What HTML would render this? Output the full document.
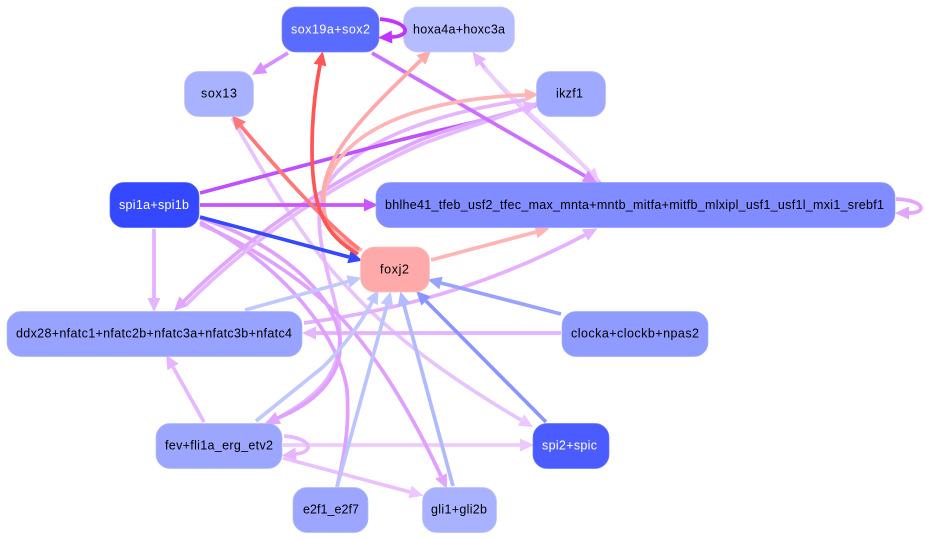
<!DOCTYPE html>
<html><head><meta charset="utf-8"><style>
html,body{margin:0;padding:0;background:#fff;width:925px;height:539px;overflow:hidden}
svg{display:block}
text{font-family:"Liberation Sans",sans-serif;font-size:12.5px;text-anchor:start}
path{fill:none;stroke-width:3.7}
</style></head><body>
<svg width="925" height="539" viewBox="0 0 925 539" xmlns="http://www.w3.org/2000/svg">
<defs>
<marker id="a1" markerUnits="userSpaceOnUse" markerWidth="16" markerHeight="16" refX="0" refY="8" orient="auto" overflow="visible"><polygon points="0,1.5 14,8 0,14.500" fill="#c233ff"/></marker>
<marker id="a2" markerUnits="userSpaceOnUse" markerWidth="16" markerHeight="16" refX="0" refY="8" orient="auto" overflow="visible"><polygon points="0,1.5 14,8 0,14.500" fill="#d88fff"/></marker>
<marker id="a3" markerUnits="userSpaceOnUse" markerWidth="16" markerHeight="16" refX="0" refY="8" orient="auto" overflow="visible"><polygon points="0,1.5 14,8 0,14.500" fill="#ff5555"/></marker>
<marker id="a4" markerUnits="userSpaceOnUse" markerWidth="16" markerHeight="16" refX="0" refY="8" orient="auto" overflow="visible"><polygon points="0,1.5 14,8 0,14.500" fill="#ff7777"/></marker>
<marker id="a5" markerUnits="userSpaceOnUse" markerWidth="16" markerHeight="16" refX="0" refY="8" orient="auto" overflow="visible"><polygon points="0,1.5 14,8 0,14.500" fill="#ffaaaa"/></marker>
<marker id="a6" markerUnits="userSpaceOnUse" markerWidth="16" markerHeight="16" refX="0" refY="8" orient="auto" overflow="visible"><polygon points="0,1.5 14,8 0,14.500" fill="#ffb5b5"/></marker>
<marker id="a7" markerUnits="userSpaceOnUse" markerWidth="16" markerHeight="16" refX="0" refY="8" orient="auto" overflow="visible"><polygon points="0,1.5 14,8 0,14.500" fill="#e2a6ff"/></marker>
<marker id="a8" markerUnits="userSpaceOnUse" markerWidth="16" markerHeight="16" refX="0" refY="8" orient="auto" overflow="visible"><polygon points="0,1.5 14,8 0,14.500" fill="#e6b5ff"/></marker>
<marker id="a9" markerUnits="userSpaceOnUse" markerWidth="16" markerHeight="16" refX="0" refY="8" orient="auto" overflow="visible"><polygon points="0,1.5 14,8 0,14.500" fill="#ecc8ff"/></marker>
<marker id="b1" markerUnits="userSpaceOnUse" markerWidth="16" markerHeight="16" refX="0" refY="8" orient="auto" overflow="visible"><polygon points="0,1.5 14,8 0,14.500" fill="#3348ff"/></marker>
<marker id="b2" markerUnits="userSpaceOnUse" markerWidth="16" markerHeight="16" refX="0" refY="8" orient="auto" overflow="visible"><polygon points="0,1.5 14,8 0,14.500" fill="#8a96ff"/></marker>
<marker id="b3" markerUnits="userSpaceOnUse" markerWidth="16" markerHeight="16" refX="0" refY="8" orient="auto" overflow="visible"><polygon points="0,1.5 14,8 0,14.500" fill="#98a3ff"/></marker>
<marker id="b4" markerUnits="userSpaceOnUse" markerWidth="16" markerHeight="16" refX="0" refY="8" orient="auto" overflow="visible"><polygon points="0,1.5 14,8 0,14.500" fill="#b0baff"/></marker>
<marker id="b5" markerUnits="userSpaceOnUse" markerWidth="16" markerHeight="16" refX="0" refY="8" orient="auto" overflow="visible"><polygon points="0,1.5 14,8 0,14.500" fill="#bfc7ff"/></marker>
<marker id="a10" markerUnits="userSpaceOnUse" markerWidth="16" markerHeight="16" refX="0" refY="8" orient="auto" overflow="visible"><polygon points="0,1.5 14,8 0,14.500" fill="#c855ff"/></marker>
</defs>

<!-- light background edges -->
<path d="M232 118 C270 185 310 250 350 290 C400 345 470 390 521 420" stroke="#e8c4ff" marker-end="url(#a9)"/>
<path d="M283 445 L520 445" stroke="#eecaff" marker-end="url(#a9)"/>
<path d="M283 458 L410 492" stroke="#eac0ff" marker-end="url(#a9)"/>
<path d="M204 422 L173 367" stroke="#e8b8ff" marker-end="url(#a8)"/>
<path d="M154 229 L154 298" stroke="#e5b0ff" marker-end="url(#a8)"/>
<path d="M561 333 L316 333" stroke="#e5b0ff" marker-end="url(#a8)"/>
<path d="M304 323 C400 310 490 285 585 235" stroke="#e5b0ff" marker-end="url(#a8)"/>
<path d="M601 184 C563 142 513 105 481 63" stroke="#e5b0ff" marker-end="url(#a8)"/>
<path d="M484 68 C515 102 555 135 590 172" stroke="#ead0ff" marker-end="url(#a9)"/>

<!-- purple arcs -->
<path d="M525 100 C420 115 340 150 322 195 C310 240 340 300 340 335 C340 380 310 400 278 418" stroke="#e6b5ff" marker-end="url(#a8)"/>
<path d="M200 218 C270 240 335 290 340 340 C343 380 310 405 278 418" stroke="#e0a0ff" marker-end="url(#a7)"/>
<path d="M200 222 C290 270 340 340 347 390 C350 430 343 460 337 487" stroke="#e0a0ff"/>
<path d="M200 224 C260 250 310 285 343 320 C380 360 415 420 441 476" stroke="#e0a0ff" marker-end="url(#a7)"/>
<path d="M200 193 L400 140 C450 127 500 118 537 104" stroke="#c04fff"/>
<path d="M536 106 C500 115 460 125 420 140 C330 180 250 235 184 301" stroke="#dfa6ff" marker-end="url(#a7)"/>
<path d="M186 305 C253 238 332 184 422 144 C462 129 495 119 525 108" stroke="#e6b8ff" marker-end="url(#a8)"/>

<!-- blue edges to foxj2 -->
<path d="M245 310 L348 281.500" stroke="#c0c8ff" marker-end="url(#b5)"/>
<path d="M256 421 L323 367 C345 345 360 325 372 302" stroke="#c0c8ff" marker-end="url(#b5)"/>
<path d="M337 487 L387 305" stroke="#bcc4ff" marker-end="url(#b5)"/>
<path d="M453 486 L404 305" stroke="#b0baff" marker-end="url(#b4)"/>
<path d="M561 314 L441 283" stroke="#98a3ff" marker-end="url(#b3)"/>
<path d="M546 422 L426 301" stroke="#8a96ff" marker-end="url(#b2)"/>

<!-- other -->
<path d="M288 53 L264 67.500" stroke="#d88fff" marker-end="url(#a2)"/>
<path d="M372 53 L585 176" stroke="#cc70ff" marker-end="url(#a2)"/>
<path d="M362 250 C330 240 320 220 325 190 C335 140 400 100 525 95" stroke="#ffb5b5" marker-end="url(#a6)"/>
<path d="M360 250 C335 240 322 225 323 195 C325 150 375 105 421 60" stroke="#ffaaaa" marker-end="url(#a5)"/>
<path d="M431 260 L536 232" stroke="#ffb5b5" marker-end="url(#a6)"/>
<path d="M200 205 L364 205" stroke="#c855ff" marker-end="url(#a10)"/>
<path d="M200 217 L349 257" stroke="#3348ff" marker-end="url(#b1)"/>
<path d="M359 249 C325 222 285 178 241 126" stroke="#ff7777" marker-end="url(#a4)"/>
<path d="M358 254 C325 235 312 210 312 150 C312 115 315 90 320 65" stroke="#ff5555" marker-end="url(#a3)"/>

<!-- nodes -->
<g stroke-width="0.7">
<rect x="282" y="7" width="97" height="45" rx="14" fill="#5a6bff" stroke="#7a88ff"/>
<rect x="403.500" y="7" width="111" height="45" rx="14" fill="#b5bcff" stroke="#c6ccff"/>
<rect x="184.500" y="71.500" width="69" height="45" rx="14" fill="#a8b2ff" stroke="#bcc4ff"/>
<rect x="536.500" y="71.500" width="69" height="45" rx="14" fill="#9fa9ff" stroke="#b5bdff"/>
<rect x="110" y="182.500" width="89" height="45" rx="14" fill="#3348ff" stroke="#5566ff"/>
<rect x="376" y="182.500" width="519" height="45" rx="14" fill="#808cff" stroke="#98a3ff"/>
<rect x="360.500" y="247" width="69" height="45" rx="14" fill="#ffaaaa" stroke="#ffc0c0"/>
<rect x="7" y="311.500" width="295" height="45" rx="14" fill="#98a3ff" stroke="#aeb7ff"/>
<rect x="562" y="311.500" width="146" height="45" rx="14" fill="#8f9bff" stroke="#a5afff"/>
<rect x="156" y="423.500" width="126" height="45" rx="14" fill="#9ca6ff" stroke="#b2bbff"/>
<rect x="533" y="423.500" width="76" height="45" rx="14" fill="#4a5cff" stroke="#6a79ff"/>
<rect x="293" y="487.500" width="75" height="45" rx="14" fill="#9ca6ff" stroke="#b2bbff"/>
<rect x="422.500" y="487.500" width="74" height="45" rx="14" fill="#a8b2ff" stroke="#bcc4ff"/>
</g>

<!-- self loops -->
<path d="M380 19 C410 22 412 36 392 37" stroke="#c233ff" marker-end="url(#a1)"/>
<path d="M284 436 C312 438 315 452 296 454" stroke="#e8b8ff" marker-end="url(#a8)"/>
<path d="M896 199 C925 200 928 213 909 213" stroke="#e2a6ff" marker-end="url(#a7)"/>

<!-- labels -->
<text x="291" y="33.500" fill="#fff" textLength="79" lengthAdjust="spacing">sox19a+sox2</text>
<text x="413" y="33.500" fill="#000" textLength="92" lengthAdjust="spacing">hoxa4a+hoxc3a</text>
<text x="201" y="97.500" fill="#000" textLength="36" lengthAdjust="spacing">sox13</text>
<text x="556" y="97.500" fill="#000" textLength="27" lengthAdjust="spacing">ikzf1</text>
<text x="119" y="209" fill="#fff" textLength="70" lengthAdjust="spacing">spi1a+spi1b</text>
<text x="385" y="209" fill="#000" textLength="499" lengthAdjust="spacing">bhlhe41_tfeb_usf2_tfec_max_mnta+mntb_mitfa+mitfb_mlxipl_usf1_usf1l_mxi1_srebf1</text>
<text x="380" y="273.500" fill="#000" textLength="29" lengthAdjust="spacing">foxj2</text>
<text x="16" y="337.500" fill="#000" textLength="276" lengthAdjust="spacing">ddx28+nfatc1+nfatc2b+nfatc3a+nfatc3b+nfatc4</text>
<text x="571" y="337.500" fill="#000" textLength="128" lengthAdjust="spacing">clocka+clockb+npas2</text>
<text x="165" y="449.500" fill="#000" textLength="108" lengthAdjust="spacing">fev+fli1a_erg_etv2</text>
<text x="542" y="449.500" fill="#fff" textLength="55" lengthAdjust="spacing">spi2+spic</text>
<text x="303" y="513.500" fill="#000" textLength="56" lengthAdjust="spacing">e2f1_e2f7</text>
<text x="431" y="513.500" fill="#000" textLength="56" lengthAdjust="spacing">gli1+gli2b</text>
</svg>
</body></html>
